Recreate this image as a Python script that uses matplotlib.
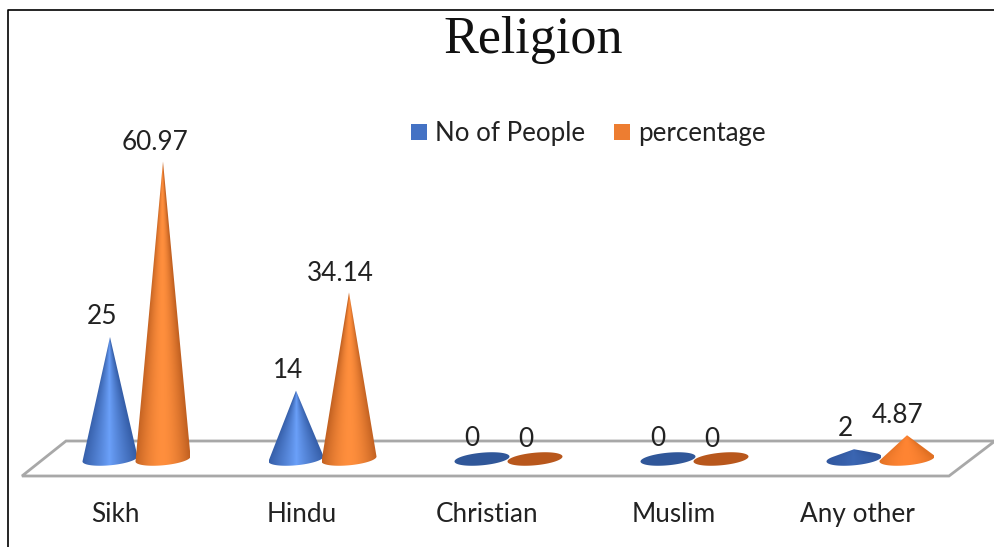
import matplotlib
matplotlib.use("Agg")
import matplotlib.pyplot as plt
from matplotlib.patches import Polygon, Rectangle
import numpy as np

categories = ["Sikh", "Hindu", "Christian", "Muslim", "Any other"]
people = [25, 14, 0, 0, 2]
percentage = [60.97, 34.14, 0, 0, 4.87]
people_labels = ["25", "14", "0", "0", "2"]
percentage_labels = ["60.97", "34.14", "0", "0", "4.87"]
people_label_dx = [-8, -8, -10, -10, -9]
percentage_label_dx = [-8, -9, -9, -9, -9]
category_dx = [-21, -21, -21, -21, -23]

W, H = 995, 547
X0, XSTEP = 136.5, 186.0   # pixel x of first group, pixel spacing of groups
Y0, YSCALE = 459.0, 4.88   # pixel y of value 0, pixels per unit

fig = plt.figure(figsize=(W / 100, H / 100), dpi=100)
ax = fig.add_axes([0, 0, 1, 1])
ax.axis("off")


def to_data(x, y):
    return ((x - X0) / XSTEP, (Y0 - y) / YSCALE)


# frame and floor
frame = [to_data(8.5, 547), to_data(8.5, 9.5), to_data(995, 9.5)]
ax.plot(*zip(*frame), color="black", lw=1.2, zorder=1)
floor = [to_data(p[0], p[1]) for p in [(22, 476), (66, 441), (995, 441), (949, 476)]]
ax.add_patch(Polygon(floor, closed=True, fc="white", ec="#a8a8a8", lw=2, zorder=1))

BLUE = ((0.21, 0.37, 0.66), (0.42, 0.63, 0.98))
ORANGE = ((0.76, 0.38, 0.13), (1.00, 0.56, 0.24))
BLUE_LOW = ((0.19, 0.34, 0.62), (0.23, 0.40, 0.70))
ORANGE_LOW = ((0.88, 0.44, 0.14), (1.00, 0.52, 0.20))
BLUE_FLAT = (0.19, 0.34, 0.60)
ORANGE_FLAT = (0.72, 0.34, 0.11)

HALF_W = 27.5 / XSTEP
HALF_H = 6.3 / YSCALE
TILT = 0.09 * XSTEP / YSCALE   # base ellipses lean up to the right
OFFSET = 26.5 / XSTEP


def draw_cone(xc, value, colors, zorder, falloff):
    # outline: tip, then the base ellipse between the two tangent points
    d = value / HALF_H
    if d > 1:
        phi = np.arcsin(1 / d)
        t = np.linspace(np.pi - phi, 2 * np.pi + phi, 90)
    else:
        t = np.linspace(0, 2 * np.pi, 90)
    ex = HALF_W * np.cos(t)
    ey = HALF_H * np.sin(t) + TILT * ex
    verts = list(zip(xc + ex, ey))
    if d > 1:
        verts.append((xc, value))
    if value == 0:
        ax.add_patch(Polygon(verts, closed=True, fc=colors, lw=0, zorder=zorder))
        return

    # shading runs across the cone, so it narrows toward the tip
    bottom = -HALF_H * 1.8
    xs = np.linspace(xc - HALF_W, xc + HALF_W, 160)
    ys = np.linspace(value, bottom, 400)
    gx, gy = np.meshgrid(xs, ys)
    width = HALF_W * np.clip((value - gy) / value, 0.01, 1)
    u = np.clip(np.abs(gx - xc) / width, 0, 1)
    shade = 1 - u ** falloff
    dark, light = np.array(colors[0]), np.array(colors[1])
    rgb = dark + shade[..., None] * (light - dark)
    img = ax.imshow(rgb, extent=[xc - HALF_W, xc + HALF_W, bottom, value],
                    aspect="auto", zorder=zorder, interpolation="bilinear")
    img.set_clip_path(Polygon(verts, closed=True, transform=ax.transData))


LABEL = dict(ha="center", va="bottom", fontsize=18.8, family="Lato", color="#222222", zorder=6)
for i, cat in enumerate(categories):
    low = people[i] < 10
    draw_cone(i - OFFSET, people[i], BLUE_FLAT if people[i] == 0 else (BLUE_LOW if low else BLUE), 3, 0.9)
    low = percentage[i] < 10
    draw_cone(i + OFFSET, percentage[i], ORANGE_FLAT if percentage[i] == 0 else (ORANGE_LOW if low else ORANGE), 4, 1.7)
    ax.text(i - OFFSET + people_label_dx[i] / XSTEP, people[i] + 1.6, people_labels[i], **LABEL)
    ax.text(i + OFFSET + percentage_label_dx[i] / XSTEP, percentage[i] + 1.4, percentage_labels[i], **LABEL)
    ax.text(i + category_dx[i] / XSTEP, -11.3, cat, ha="center", va="center", fontsize=18.8,
            family="Lato", color="#222222")

# imshow rewrites the limits, so they are set last
ax.set_xlim((0 - X0) / XSTEP, (W - X0) / XSTEP)
ax.set_ylim((Y0 - H) / YSCALE, Y0 / YSCALE)

fig.text(533.5 / W, 1 - 40 / H, "Religion", ha="center", va="center", fontsize=37.5,
         family="Liberation Serif", color="#111111")

# legend
for x, name, col in [(411, "No of People", "#4472c4"), (614, "percentage", "#ed7d31")]:
    fig.add_artist(Rectangle((x / W, 1 - 140 / H), 16 / W, 16 / H, fc=col, ec="none",
                             transform=fig.transFigure))
    fig.text((x + 24) / W, 1 - 133 / H, name, ha="left", va="center", fontsize=18.6,
             family="Lato", color="#222222")

fig.savefig("out.png", dpi=100)
